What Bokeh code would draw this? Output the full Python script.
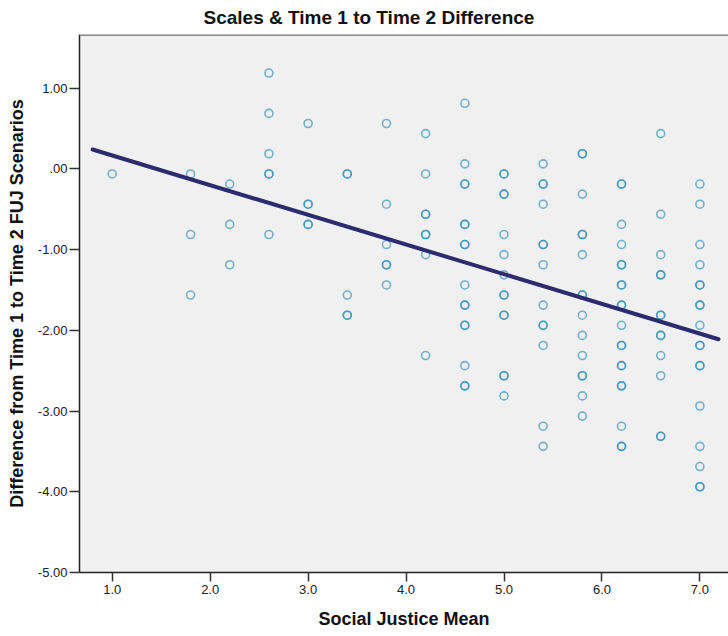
from bokeh.plotting import figure
from bokeh.models import Range1d, FixedTicker, Span
from bokeh.embed import file_html
from bokeh.resources import INLINE

title_text = "Scales & Time 1 to Time 2 Difference"
x_label = "Social Justice Mean"
y_label = "Difference from Time 1 to Time 2 FUJ Scenarios"

x_ticks = [1, 2, 3, 4, 5, 6, 7]
x_tick_labels = ["1.0", "2.0", "3.0", "4.0", "5.0", "6.0", "7.0"]
y_ticks = [-5, -4, -3, -2, -1, 0, 1]
y_tick_labels = ["-5.00", "-4.00", "-3.00", "-2.00", "-1.00", ".00", "1.00"]

# Social Justice Mean levels and the differences observed at each level
sj_levels = [1.0, 1.8, 2.2, 2.6, 3.0, 3.4, 3.8, 4.2, 4.6, 5.0, 5.4, 5.8, 6.2, 6.6, 7.0]
fuj_by_level = [
    [-0.0625],
    [-0.0625, -0.8125, -1.5625],
    [-0.1875, -0.6875, -1.1875],
    [1.1875, 0.6875, 0.1875, -0.0625, -0.0625, -0.8125],
    [0.5625, -0.4375, -0.4375, -0.6875, -0.6875],
    [-0.0625, -0.0625, -1.5625, -1.8125, -1.8125],
    [0.5625, -0.4375, -0.9375, -1.1875, -1.1875, -1.4375],
    [0.4375, -0.0625, -0.5625, -0.5625, -0.8125, -0.8125, -1.0625, -2.3125],
    [0.8125, 0.0625, -0.1875, -0.1875, -0.6875, -0.6875, -0.9375, -0.9375,
     -1.4375, -1.6875, -1.6875, -1.9375, -1.9375, -2.4375, -2.6875, -2.6875],
    [-0.0625, -0.0625, -0.3125, -0.3125, -0.8125, -1.0625, -1.3125, -1.5625,
     -1.5625, -1.8125, -1.8125, -2.5625, -2.5625, -2.8125],
    [0.0625, -0.1875, -0.1875, -0.4375, -0.9375, -0.9375, -1.1875, -1.6875,
     -1.9375, -1.9375, -2.1875, -3.1875, -3.4375],
    [0.1875, 0.1875, -0.3125, -0.8125, -0.8125, -1.0625, -1.5625, -1.5625,
     -1.8125, -2.0625, -2.3125, -2.5625, -2.5625, -2.8125, -3.0625],
    [-0.1875, -0.1875, -0.6875, -0.9375, -1.1875, -1.1875, -1.4375, -1.4375,
     -1.6875, -1.6875, -1.9375, -2.1875, -2.1875, -2.4375, -2.4375, -2.6875,
     -2.6875, -3.1875, -3.4375, -3.4375],
    [0.4375, -0.5625, -1.0625, -1.3125, -1.3125, -1.8125, -1.8125, -2.0625,
     -2.0625, -2.3125, -2.5625, -3.3125, -3.3125],
    [-0.1875, -0.4375, -0.9375, -1.1875, -1.4375, -1.4375, -1.6875, -1.6875,
     -1.9375, -2.1875, -2.1875, -2.4375, -2.4375, -2.9375, -3.4375, -3.6875,
     -3.9375, -3.9375],
]

# Fit line end points
fit_x = [0.80, 7.19]
fit_y = [0.24, -2.11]

xs, ys = [], []
for lvl, vals in zip(sj_levels, fuj_by_level):
    for v in vals:
        xs.append(lvl)
        ys.append(v)

p = figure(
    output_backend="svg", toolbar_location=None,
    frame_width=649, frame_height=538,
    min_border_left=79, min_border_right=0, min_border_top=34, min_border_bottom=64,
    x_range=Range1d(0.666, 7.292), y_range=Range1d(-5.0, 1.665),
    background_fill_color="#f0f0f0", border_fill_color="white",
)
p.outline_line_color = None
p.grid.visible = False

p.title.text = title_text
p.title.text_font = "Liberation Sans"
p.title.text_font_size = "19px"
p.title.text_font_style = "bold"
p.title.text_color = "#111111"
p.title.align = "left"
p.title.offset = 124
p.title.standoff = 10
p.title.vertical_align = "top"

for ax in (p.xaxis[0], p.yaxis[0]):
    ax.axis_line_color = "#222222"
    ax.axis_line_width = 1.5
    ax.major_tick_line_color = "#333333"
    ax.major_tick_line_width = 1.5
    ax.minor_tick_line_color = None
    ax.major_tick_in = 0
    ax.major_label_text_font = "Liberation Sans"
    ax.major_label_text_font_size = "13px"
    ax.major_label_text_color = "#222222"
    ax.axis_label_text_font = "Liberation Sans"
    ax.axis_label_text_font_size = "18px"
    ax.axis_label_text_font_style = "bold"
    ax.axis_label_text_color = "#111111"

p.xaxis.ticker = FixedTicker(ticks=x_ticks)
p.xaxis.major_label_overrides = {t: lab for t, lab in zip(x_ticks, x_tick_labels)}
p.xaxis.major_tick_out = 9
p.xaxis.major_label_standoff = 3
p.xaxis.axis_label = x_label
p.xaxis.axis_label_standoff = 12

p.yaxis.ticker = FixedTicker(ticks=y_ticks)
p.yaxis.major_label_overrides = {t: lab for t, lab in zip(y_ticks, y_tick_labels)}
p.yaxis.major_tick_out = 10
p.yaxis.major_label_standoff = 2
p.yaxis.axis_label = y_label
p.yaxis.axis_label_standoff = 8

top_border = Span(location=1.665, dimension="width", line_color="#8a8a8a", line_width=3)
p.add_layout(top_border)

p.scatter(xs, ys, marker="circle", size=8, fill_color=None,
          line_color="#2b8db8", line_alpha=0.65, line_width=1.6)

p.line(fit_x, fit_y, line_color="#2d2b6f", line_width=4, line_cap="round")

open("out.html", "w").write(file_html(p, INLINE))
